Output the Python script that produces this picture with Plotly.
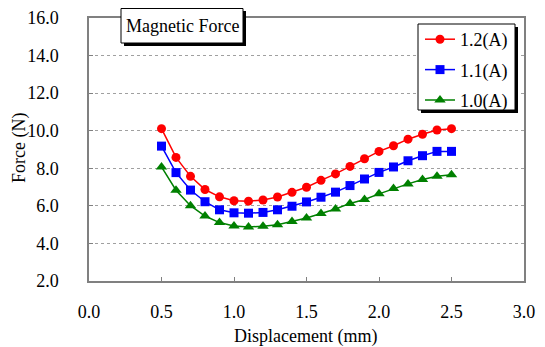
import plotly.graph_objects as go

# ---- data ----
displacement = [0.5, 0.6, 0.7, 0.8, 0.9, 1.0, 1.1, 1.2, 1.3, 1.4, 1.5,
                1.6, 1.7, 1.8, 1.9, 2.0, 2.1, 2.2, 2.3, 2.4, 2.5]
force_12 = [10.11, 8.58, 7.57, 6.87, 6.48, 6.27, 6.25, 6.31, 6.47, 6.72, 6.99,
            7.36, 7.70, 8.10, 8.51, 8.90, 9.20, 9.55, 9.81, 10.04, 10.11]
force_11 = [9.18, 7.77, 6.84, 6.22, 5.79, 5.63, 5.61, 5.65, 5.79, 5.98, 6.21,
            6.46, 6.73, 7.08, 7.43, 7.78, 8.07, 8.40, 8.67, 8.90, 8.90]
force_10 = [8.07, 6.83, 6.01, 5.46, 5.11, 4.93, 4.88, 4.91, 5.00, 5.17, 5.35,
            5.59, 5.83, 6.13, 6.34, 6.64, 6.92, 7.17, 7.40, 7.57, 7.66]
series_names = ["1.2(A)", "1.1(A)", "1.0(A)"]
x_ticks = [0.0, 0.5, 1.0, 1.5, 2.0, 2.5, 3.0]
y_ticks = [2.0, 4.0, 6.0, 8.0, 10.0, 12.0, 14.0, 16.0]

# ---- layout geometry ----
# The page body has an 8px default margin, so the figure is drawn 8px in from
# the top-left; geometry below is given in screen pixels and shifted back.
OFF = 8
W, H = 545 - OFF, 347 - OFF
L, R, T, B = 89 - OFF, 524 - OFF, 18 - OFF, 281 - OFF
FONT = "Liberation Serif"
F18 = dict(family=FONT, size=18, color="black")


def px(x):
    return (x - OFF - L) / (R - L)


def py(y):
    return (B - (y - OFF)) / (B - T)


fig = go.Figure()
styles = [("#FF0000", "circle", 9), ("#0000FF", "square", 9), ("#008000", "triangle-up", 10)]
for name, ys, (col, sym, sz) in zip(series_names, [force_12, force_11, force_10], styles):
    fig.add_trace(go.Scatter(
        x=displacement, y=ys, name=name, mode="lines+markers",
        legendgroup=name,
        line=dict(color=col, width=1.5),
        marker=dict(color=col, symbol=sym, size=sz, line=dict(width=0)),
    ))

shapes = []
# title box with shadow
shapes.append(dict(type="rect", xref="paper", yref="paper",
                   x0=px(124), x1=px(246), y0=py(11), y1=py(46),
                   fillcolor="black", line=dict(width=0), layer="above"))
shapes.append(dict(type="rect", xref="paper", yref="paper",
                   x0=px(121), x1=px(243), y0=py(8.5), y1=py(43),
                   fillcolor="white", line=dict(color="black", width=1), layer="above"))
# legend box with shadow
shapes.append(dict(type="rect", xref="paper", yref="paper",
                   x0=px(421), x1=px(518), y0=py(27), y1=py(113),
                   fillcolor="black", line=dict(width=0), layer="above"))
shapes.append(dict(type="rect", xref="paper", yref="paper",
                   x0=px(418), x1=px(515), y0=py(24), y1=py(110),
                   fillcolor="white", line=dict(color="black", width=1), layer="above"))
# red edge line at right
shapes.append(dict(type="line", xref="paper", yref="paper",
                   x0=px(539), x1=px(539), y0=py(OFF), y1=py(347),
                   line=dict(color="#F07070", width=1), layer="above"))

annotations = [
    dict(text="Magnetic Force", xref="paper", yref="paper",
         x=px(182), y=py(26), xanchor="center", yanchor="middle",
         showarrow=False, font=F18),
    dict(text="Displacement (mm)", xref="paper", yref="paper",
         x=px(305), y=py(336), xanchor="center", yanchor="middle",
         showarrow=False, font=F18),
    dict(text="Force (N)", xref="paper", yref="paper",
         x=px(19), y=py(148), xanchor="center", yanchor="middle",
         textangle=-90, showarrow=False, font=F18),
]

fig.update_layout(
    width=W, height=H,
    margin=dict(l=L, r=W - R, t=T, b=H - B, pad=0),
    paper_bgcolor="white", plot_bgcolor="white",
    font=F18,
    showlegend=True,
    legend=dict(x=px(420), y=py(21), xanchor="left", yanchor="top",
                bgcolor="rgba(0,0,0,0)", borderwidth=0,
                font=F18, tracegroupgap=4,
                itemwidth=30),
    shapes=shapes,
    annotations=annotations,
    xaxis=dict(range=[0, 3], tickvals=x_ticks, ticktext=[f"{v:.1f}" for v in x_ticks],
               tickfont=F18, automargin=False,
               showgrid=False, zeroline=False,
               showline=True, linecolor="#808080", linewidth=1.5, mirror=True,
               ticks="inside", ticklen=4, tickcolor="#808080",
               ticklabelstandoff=14),
    yaxis=dict(range=[2, 16], tickvals=y_ticks, ticktext=[f"{v:.1f}" for v in y_ticks],
               tickfont=F18, automargin=False,
               showgrid=True, gridcolor="#A0A0A0", griddash="dot", gridwidth=1,
               zeroline=False,
               showline=True, linecolor="#808080", linewidth=1.5, mirror=True,
               ticks="inside", ticklen=4, tickcolor="#808080",
               ticklabelstandoff=25),
)

fig.write_html("out.html")
